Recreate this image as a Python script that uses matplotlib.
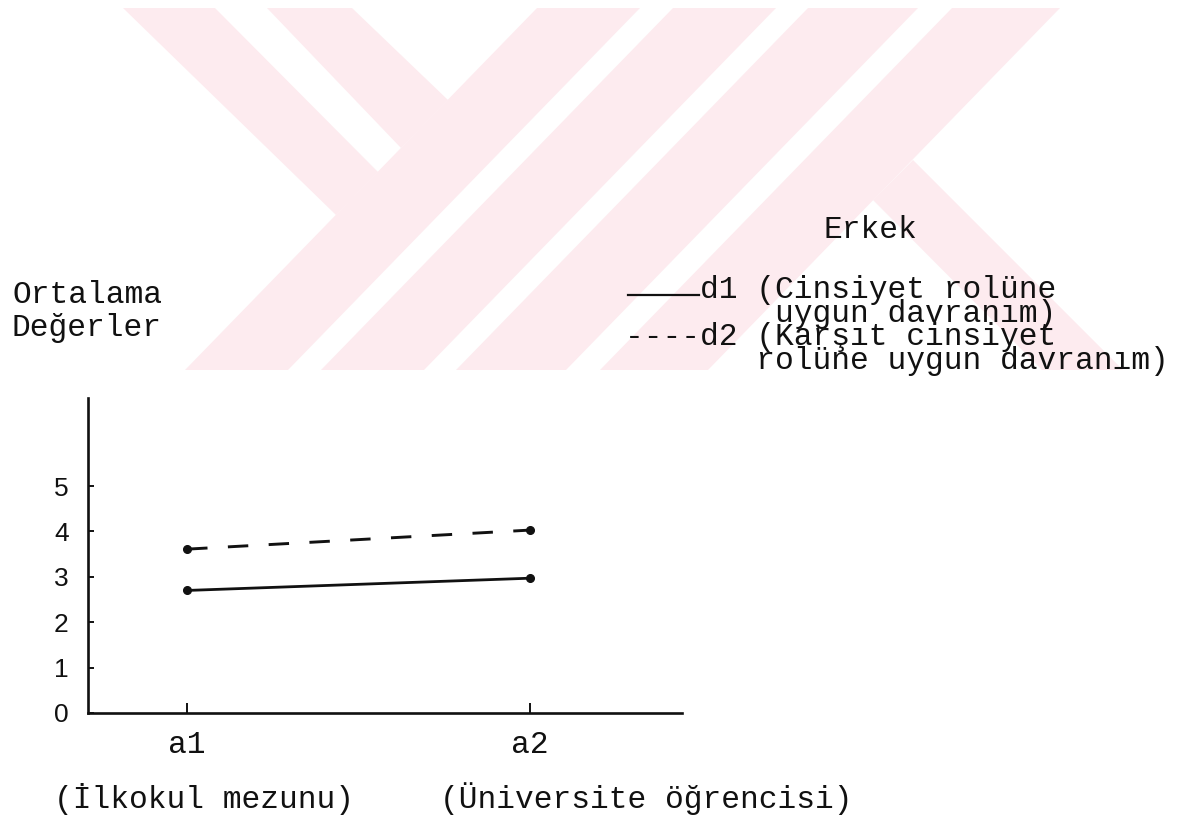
import matplotlib
matplotlib.use("Agg")
import matplotlib.pyplot as plt
from matplotlib.transforms import Affine2D
from matplotlib.patches import Polygon
from matplotlib.lines import Line2D

# veriler
gruplar = ['a1', 'a2']
grup_adlari = ['(İlkokul mezunu)', '(Üniversite öğrencisi)']
d1 = [2.70, 2.97]   # Cinsiyet rolüne uygun davranım
d2 = [3.61, 4.03]   # Karşıt cinsiyet rolüne uygun davranım
y_ticks = [0, 1, 2, 3, 4, 5]

W, H = 1192, 824
mono = 'Liberation Mono'
fs = 22.5
ink = '#111111'

fig = plt.figure(figsize=(W / 100, H / 100), dpi=100)
# piksel koordinatlari (sol ust koseden)
px = Affine2D().scale(1 / W, -1 / H).translate(0, 1) + fig.transFigure

# arka plandaki soluk filigran
pembe = '#fdebef'
filigran = [
    [(123, 8), (215, 8), (378, 172), (336, 215)],
    [(267, 8), (352, 8), (448, 100), (401, 148)],
    [(537, 8), (640, 8), (288, 370), (185, 370)],
    [(673, 8), (776, 8), (424, 370), (321, 370)],
    [(808, 8), (918, 8), (566, 370), (456, 370)],
    [(952, 8), (1060, 8), (708, 370), (600, 370)],
    [(913, 160), (1123, 370), (1042, 370), (873, 200)],
]
for p in filigran:
    fig.patches.append(Polygon(p, closed=True, facecolor=pembe, edgecolor='none',
                               transform=px, zorder=0))

ax = fig.add_axes([88 / W, 1 - 713 / H, (682 - 88) / W, (713 - 398) / H])
ax.patch.set_alpha(0)
x = list(range(len(gruplar)))

ax.plot(x, d1, color=ink, lw=2.0, marker='o', ms=5.5)
ax.plot(x, d2, color=ink, lw=2.1, marker='o', ms=5.5, linestyle=(0, (7, 7)))

ax.set_xlim(-0.289, 1.443)
ax.set_ylim(0, 6.94)
for s in ['top', 'right']:
    ax.spines[s].set_visible(False)
for s in ['left', 'bottom']:
    ax.spines[s].set_linewidth(1.9)
    ax.spines[s].set_color(ink)

ax.set_xticks(x)
ax.set_xticklabels(gruplar, fontfamily=mono, fontsize=fs, color=ink)
ax.set_yticks(y_ticks)
ax.set_yticklabels([str(v) for v in y_ticks], fontfamily='Liberation Sans',
                   fontsize=19, color=ink)
ax.tick_params(axis='x', direction='in', length=7, width=1.4, pad=12, colors=ink)
ax.tick_params(axis='y', direction='in', length=4, width=1.4, pad=14, colors=ink)


# cok satirli metinde y = son satirin taban cizgisi
def yaz(xp, yp, s, ha='left', ls=1.2):
    fig.text(xp, yp, s, transform=px, ha=ha, va='baseline', linespacing=ls,
             fontfamily=mono, fontsize=fs, color=ink)


yaz(12, 336, 'Ortalama\nDeğerler', ls=1.12)
yaz(870, 238, 'Erkek', ha='center')

# aciklama (d1 cizgisi ayrica ciziliyor)
fig.add_artist(Line2D([628, 699], [295, 295], transform=px, color=ink, lw=1.6))
aciklama = ('    d1 (Cinsiyet rolüne\n'
            '        uygun davranım)\n'
            '----d2 (Karşıt cinsiyet\n'
            '       rolüne uygun davranım)')
yaz(625, 369, aciklama, ls=0.72)

yaz(54, 808, grup_adlari[0])
yaz(440, 808, grup_adlari[1])

fig.savefig('out.png', dpi=100)
